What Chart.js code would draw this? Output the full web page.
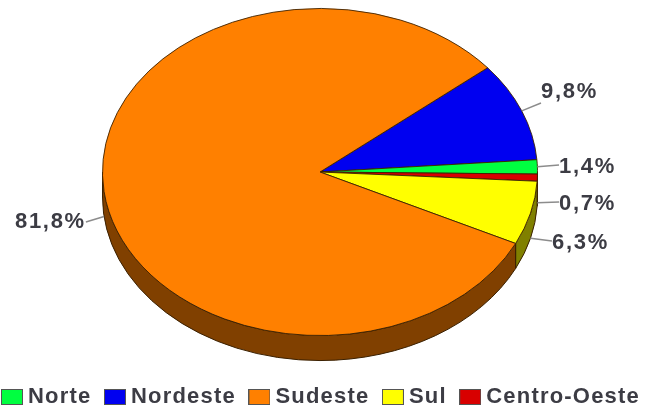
<!DOCTYPE html>
<html>
<head>
<meta charset="utf-8">
<style>
  html, body { margin: 0; padding: 0; background: #fff; overflow: hidden; width: 646px; height: 410px; }
  #chart { display: block; filter: blur(0.7px); }
</style>
<script src="https://cdn.jsdelivr.net/npm/chart.js@4/dist/chart.umd.min.js"></script>
</head>
<body>
<!-- wider than the window so the legend stays on one row -->
<canvas id="chart" width="700" height="410"></canvas>
<script>
// Slices, clockwise from the top edge of Nordeste
const categories = ['Nordeste', 'Norte', 'Centro-Oeste', 'Sul', 'Sudeste'];
const shares = [9.8, 1.4, 0.7, 6.3, 81.8];
const sliceColors = ['#0000f0', '#00ff40', '#d80000', '#ffff00', '#ff8000'];
const sideColors = ['#000078', '#007820', '#6c0000', '#808000', '#804000'];
const legendOrder = ['Norte', 'Nordeste', 'Sudeste', 'Sul', 'Centro-Oeste'];

// Look of the tilted pie
const pieCenter = { x: 320, y: 172 };
const pieRadius = 217.5;
const squash = 0.752;
const depth = 25;
const edgeColor = '#3a2000';
const textColor = '#3c3c44';
const labelFont = 'bold 22px "Liberation Sans"';
const spacing = '1.2px';
const labelSpacing = '1.7px';

// Where each percentage sits: x of text start, y of text middle, y where its leader ends
const labelSpots = {
  'Nordeste': { x: 541, y: 92, lineY: 103 },
  'Norte': { x: 559, y: 167, lineY: 165 },
  'Centro-Oeste': { x: 559, y: 204, lineY: 202 },
  'Sul': { x: 552, y: 243, lineY: 241 },
  'Sudeste': { x: 15, y: 222, lineY: 222 }
};

// Legend swatch, a little wider than the legend's own box
function makeSwatch(color) {
  const c = document.createElement('canvas');
  c.width = 22;
  c.height = 16;
  const g = c.getContext('2d');
  g.fillStyle = color;
  g.fillRect(0, 0, 22, 16);
  g.strokeStyle = '#555';
  g.strokeRect(0.5, 0.5, 21, 15);
  return c;
}

// Side wall of one slice, only the part facing the viewer
function drawSide(ctx, arc, color) {
  const ry = pieRadius * squash;
  for (const shift of [-2 * Math.PI, 0, 2 * Math.PI]) {
    const from = Math.max(arc.startAngle + shift, 0);
    const to = Math.min(arc.endAngle + shift, Math.PI);
    if (to <= from) continue;
    ctx.beginPath();
    ctx.ellipse(pieCenter.x, pieCenter.y, pieRadius, ry, 0, from, to);
    ctx.ellipse(pieCenter.x, pieCenter.y + depth, pieRadius, ry, 0, to, from, true);
    ctx.closePath();
    ctx.fillStyle = color;
    ctx.fill();
    ctx.strokeStyle = edgeColor;
    ctx.lineWidth = 1;
    ctx.stroke();
  }
}

const tiltedPie = {
  id: 'tiltedPie',
  beforeLayout(chart) {
    chart.ctx.letterSpacing = spacing;
  },
  beforeDraw(chart) {
    chart.ctx.letterSpacing = spacing;
  },
  beforeDatasetsDraw(chart) {
    const ctx = chart.ctx;
    const arcs = chart.getDatasetMeta(0).data;
    arcs.forEach((arc, i) => drawSide(ctx, arc, sideColors[i]));
    // squash the flat pie into the ellipse
    ctx.save();
    ctx.translate(pieCenter.x, pieCenter.y);
    ctx.scale(1, squash);
    ctx.translate(-arcs[0].x, -arcs[0].y);
  },
  afterDatasetsDraw(chart) {
    chart.ctx.restore();
  },
  afterDraw(chart) {
    const ctx = chart.ctx;
    const ry = pieRadius * squash;
    chart.getDatasetMeta(0).data.forEach((arc, i) => {
      const mid = (arc.startAngle + arc.endAngle) / 2;
      const sin = Math.sin(mid);
      const edgeX = pieCenter.x + pieRadius * Math.cos(mid);
      const edgeY = pieCenter.y + ry * sin + (sin > 0 ? depth : 0);
      const spot = labelSpots[categories[i]];
      const text = shares[i].toFixed(1).replace('.', ',') + '%';
      ctx.save();
      ctx.font = labelFont;
      ctx.letterSpacing = labelSpacing;
      const width = ctx.measureText(text).width;
      const onLeft = spot.x < edgeX;
      ctx.strokeStyle = '#8c8c8c';
      ctx.lineWidth = 1.5;
      ctx.beginPath();
      ctx.moveTo(edgeX, edgeY);
      ctx.lineTo(onLeft ? spot.x + width : spot.x, spot.lineY);
      ctx.stroke();
      ctx.fillStyle = textColor;
      ctx.textBaseline = 'middle';
      ctx.fillText(text, spot.x, spot.y);
      ctx.restore();
    });
  }
};

new Chart(document.getElementById('chart'), {
  type: 'pie',
  plugins: [tiltedPie],
  data: {
    labels: categories,
    datasets: [{
      data: shares,
      backgroundColor: sliceColors,
      borderColor: edgeColor,
      borderWidth: 1,
      radius: pieRadius,
      rotation: 50.4,
      clip: false
    }]
  },
  options: {
    responsive: false,
    animation: false,
    layout: { padding: { left: -11.5, bottom: -8 } },
    plugins: {
      tooltip: { enabled: false },
      legend: {
        position: 'bottom',
        align: 'start',
        labels: {
          usePointStyle: true,
          pointStyleWidth: 10,
          padding: 18.5,
          color: textColor,
          font: { family: 'Liberation Sans', size: 22, weight: 'bold' },
          sort: (a, b) => legendOrder.indexOf(a.text) - legendOrder.indexOf(b.text),
          generateLabels(chart) {
            return Chart.overrides.pie.plugins.legend.labels.generateLabels(chart).map(item => {
              item.pointStyle = makeSwatch(item.fillStyle);
              return item;
            });
          }
        }
      }
    }
  }
});
</script>
</body>
</html>
